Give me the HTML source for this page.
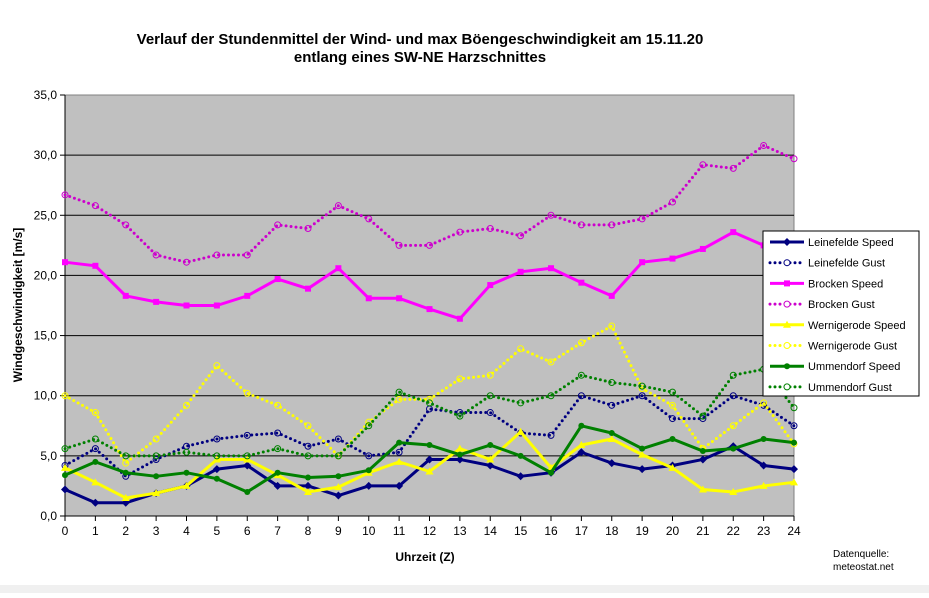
<!DOCTYPE html>
<html><head><meta charset="utf-8"><style>
body{margin:0;background:#fff;width:929px;height:593px;overflow:hidden;font-family:"Liberation Sans",Arial,sans-serif}
</style></head><body>
<svg id="s" width="929" height="593" xmlns="http://www.w3.org/2000/svg" font-family="Liberation Sans, Arial, sans-serif">
<rect x="0" y="585" width="929" height="8" fill="#f0f0f0"/>
<text x="420" y="44" font-size="15" font-weight="bold" text-anchor="middle">Verlauf der Stundenmittel der Wind- und max Böengeschwindigkeit am 15.11.20</text>
<text x="420" y="62" font-size="15" font-weight="bold" text-anchor="middle">entlang eines SW-NE Harzschnittes</text>
<rect x="65" y="95" width="729" height="421" fill="#c0c0c0" stroke="#808080"/>
<g id="grid"></g>
<g id="series"></g>
<text transform="translate(22,305) rotate(-90)" font-size="12" font-weight="bold" text-anchor="middle">Windgeschwindigkeit [m/s]</text>
<text x="425" y="561" font-size="12" font-weight="bold" text-anchor="middle">Uhrzeit (Z)</text>
<text x="833" y="557" font-size="10">Datenquelle:</text>
<text x="833" y="570" font-size="10">meteostat.net</text>
<g id="legend"></g>
</svg>
<script>
var X0=65,XS=729/24,Y0=516,YS=421/35,NS="http://www.w3.org/2000/svg";
function el(t,a,p){var e=document.createElementNS(NS,t);for(var k in a)e.setAttribute(k,a[k]);document.getElementById(p).appendChild(e);return e;}
for(var v=0;v<=35;v+=5){var y=Y0-v*YS;if(v>0&&v<35)el("line",{x1:X0,x2:794,y1:y,y2:y,stroke:"#000","stroke-width":1},"grid");
el("line",{x1:60,x2:65,y1:y,y2:y,stroke:"#000"},"grid");
var t=el("text",{x:57,y:y+4,"font-size":12,"text-anchor":"end"},"grid");t.textContent=v.toFixed(1).replace(".",",");}
el("line",{x1:X0,x2:X0,y1:95,y2:516,stroke:"#000"},"grid");
el("line",{x1:X0,x2:794,y1:516,y2:516,stroke:"#000"},"grid");
for(var i=0;i<=24;i++){var x=X0+i*XS;el("line",{x1:x,x2:x,y1:516,y2:521,stroke:"#000"},"grid");
var t=el("text",{x:x,y:535,"font-size":12,"text-anchor":"middle"},"grid");t.textContent=i;}
var S=[
["Leinefelde Speed","#000080",0,"d",[2.2,1.1,1.1,1.9,2.5,3.9,4.2,2.5,2.5,1.7,2.5,2.5,4.7,4.7,4.2,3.3,3.6,5.3,4.4,3.9,4.2,4.7,5.8,4.2,3.9]],
["Leinefelde Gust","#000080",1,"d",[4.2,5.6,3.3,4.7,5.8,6.4,6.7,6.9,5.8,6.4,5.0,5.3,8.9,8.6,8.6,6.9,6.7,10.0,9.2,10.0,8.1,8.1,10.0,9.2,7.5]],
["Brocken Speed","#ff00ff",0,"s",[21.1,20.8,18.3,17.8,17.5,17.5,18.3,19.7,18.9,20.6,18.1,18.1,17.2,16.4,19.2,20.3,20.6,19.4,18.3,21.1,21.4,22.2,23.6,22.5,22.8]],
["Brocken Gust","#cc00cc",1,"s",[26.7,25.8,24.2,21.7,21.1,21.7,21.7,24.2,23.9,25.8,24.7,22.5,22.5,23.6,23.9,23.3,25.0,24.2,24.2,24.7,26.1,29.2,28.9,30.8,29.7]],
["Wernigerode Speed","#ffff00",0,"t",[4.0,2.8,1.5,1.9,2.5,4.7,4.7,3.4,2.0,2.4,3.6,4.5,3.7,5.6,4.7,7.0,4.0,5.9,6.4,5.1,4.0,2.2,2.0,2.5,2.8]],
["Wernigerode Gust","#ffff00",1,"t",[10.0,8.6,4.4,6.4,9.2,12.5,10.2,9.2,7.5,5.0,7.8,9.7,9.7,11.4,11.7,13.9,12.8,14.4,15.8,10.6,9.2,5.6,7.5,9.4,6.0]],
["Ummendorf Speed","#008000",0,"c",[3.4,4.5,3.6,3.3,3.6,3.1,2.0,3.6,3.2,3.3,3.8,6.1,5.9,5.1,5.9,5.0,3.6,7.5,6.9,5.6,6.4,5.4,5.6,6.4,6.1]],
["Ummendorf Gust","#008000",1,"c",[5.6,6.4,5.0,5.0,5.3,5.0,5.0,5.6,5.0,5.0,7.5,10.3,9.4,8.3,10.0,9.4,10.0,11.7,11.1,10.8,10.3,8.3,11.7,12.2,9.0]]];
function mark(x,y,m,c,g){
if(m=="d")el("polygon",{points:(x-4)+","+y+" "+x+","+(y-4)+" "+(x+4)+","+y+" "+x+","+(y+4),fill:c},g);
else if(m=="s")el("rect",{x:x-3,y:y-3,width:6,height:6,fill:c},g);
else if(m=="t")el("polygon",{points:(x-4)+","+(y+3)+" "+x+","+(y-4)+" "+(x+4)+","+(y+3),fill:c},g);
else el("circle",{cx:x,cy:y,r:3,fill:c},g);}
S.forEach(function(s){var pts=s[4].map(function(v,i){return [X0+i*XS,Y0-v*YS];});
el("polyline",{points:pts.map(function(p){return p.join(",")}).join(" "),fill:"none",stroke:s[1],"stroke-width":3,"stroke-dasharray":s[2]?"0,5":"none","stroke-linecap":s[2]?"round":"butt","stroke-linejoin":"round"},"series");
pts.forEach(function(p){if(s[2]){el("circle",{cx:p[0],cy:p[1],r:3,fill:"none",stroke:s[1],"stroke-width":1},"series");}else mark(p[0],p[1],s[3],s[1],"series");});});
el("rect",{x:763,y:231,width:156,height:165,fill:"#fff",stroke:"#000"},"legend");
S.forEach(function(s,i){var y=242+i*20.7;
el("line",{x1:770,x2:804,y1:y,y2:y,stroke:s[1],"stroke-width":3,"stroke-dasharray":s[2]?"0,5":"none","stroke-linecap":s[2]?"round":"butt"},"legend");
if(!s[2])mark(787,y,s[3],s[1],"legend");else el("circle",{cx:787,cy:y,r:3,fill:"#fff",stroke:s[1]},"legend");
var t=el("text",{x:808,y:y+4,"font-size":11},"legend");t.textContent=s[0];});
</script>
</body></html>
